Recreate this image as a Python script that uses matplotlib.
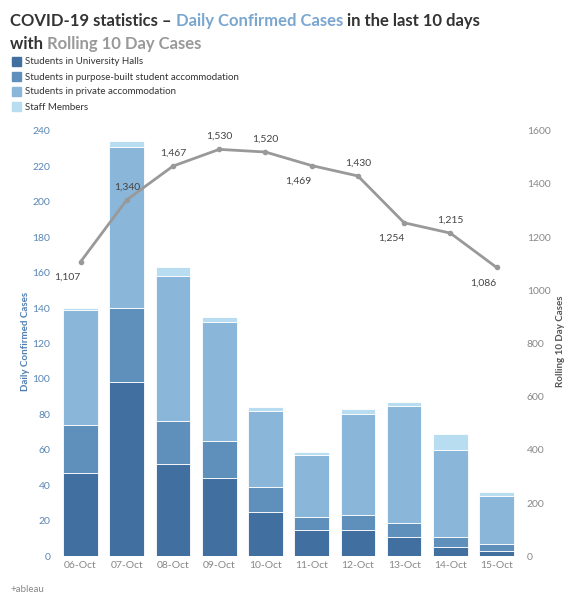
import numpy as np
import matplotlib
matplotlib.use("Agg")
from matplotlib import pyplot as plt
from matplotlib.patches import Rectangle

plt.rcParams['font.family'] = ['Lato', 'DejaVu Sans']

days = ["06-Oct", "07-Oct", "08-Oct", "09-Oct", "10-Oct", "11-Oct", "12-Oct", "13-Oct", "14-Oct", "15-Oct"]
halls = [47, 98, 52, 44, 25, 15, 15, 11, 5, 3]
pbsa = [27, 42, 24, 21, 14, 7, 8, 8, 6, 4]
private = [65, 91, 82, 67, 43, 35, 57, 66, 49, 27]
staff = [1, 3, 5, 3, 2, 2, 3, 2, 9, 2]
rolling = [1107, 1340, 1467, 1530, 1520, 1469, 1430, 1254, 1215, 1086]
label_above = [False, True, True, True, True, False, True, False, True, False]

series = [("Students in University Halls", halls, "#4170a0"),
          ("Students in purpose-built student accommodation", pbsa, "#5f90bb"),
          ("Students in private accommodation", private, "#8ab6d9"),
          ("Staff Members", staff, "#b8dcf0")]

fig = plt.figure(figsize=(5.8, 6), dpi=100)
ax = fig.add_axes([0.095, 0.073, 0.805, 0.715])
x = np.arange(len(days))
bottom = np.zeros(len(days))
for name, vals, col in series:
    ax.bar(x, vals, 0.75, bottom=bottom, color=col, edgecolor="white", linewidth=0.6)
    bottom += np.array(vals)

ax.set_xlim(-0.55, 9.55)
ax.set_ylim(0, 242)
ax.set_yticks(range(0, 241, 20))
ax.set_xticks(x)
ax.set_xticklabels(days)
ax.tick_params(axis='x', colors="#888888", labelsize=7.5, length=0)
ax.tick_params(axis='y', colors="#5a86b5", labelsize=7.5, length=0, labelcolor="#5a86b5")
ax.set_ylabel("Daily Confirmed Cases", color="#4e7db0", fontsize=7, fontweight="bold", labelpad=2)
for s in ax.spines.values():
    s.set_visible(False)

ax2 = ax.twinx()
ax2.plot(x, rolling, color="#999999", linewidth=2, marker='o', markersize=3)
ax2.set_ylim(0, 242 * 1600 / 240)
ax2.set_yticks(range(0, 1601, 200))
ax2.tick_params(axis='y', colors="#888888", labelsize=7.5, length=0)
ax2.set_ylabel("Rolling 10 Day Cases", color="#555555", fontsize=7, fontweight="bold")
for s in ax2.spines.values():
    s.set_visible(False)
for xi, v, up in zip(x, rolling, label_above):
    ax2.annotate(f"{v:,}", (xi, v), xytext=(0, 6 if up else -8), textcoords="offset points",
                 ha="right" if not up else "center", va="bottom" if up else "top",
                 fontsize=7.5, color="#444444")

# title with coloured parts
parts = [("COVID-19 statistics \u2013 ", "#333333"), ("Daily Confirmed Cases", "#7aa6cf"),
         (" in the last 10 days", "#333333")]
r = fig.canvas.get_renderer()
xpos = 10 / 580
for txt, col in parts:
    t = fig.text(xpos, 0.965, txt, color=col, fontsize=12, fontweight="bold", va="center")
    bb = t.get_window_extent(r)
    xpos += bb.width / fig.bbox.width
t = fig.text(10 / 580, 0.927, "with ", color="#333333", fontsize=12, fontweight="bold", va="center")
w = t.get_window_extent(r).width / fig.bbox.width
fig.text(10 / 580 + w, 0.927, "Rolling 10 Day Cases", color="#999999", fontsize=12,
         fontweight="bold", va="center")

# legend
for i, (name, vals, col) in enumerate(series):
    yy = 1 - (62 + i * 15) / 600
    fig.patches.append(Rectangle((12 / 580, yy - 0.007), 0.016, 0.015, color=col,
                                 transform=fig.transFigure, figure=fig))
    fig.text(25 / 580, yy, name, fontsize=7, color="#333333", va="center")

fig.text(10 / 580, 0.013, "+ableau", fontsize=7, color="#888888")
fig.savefig("out.png", dpi=100, facecolor="white")
